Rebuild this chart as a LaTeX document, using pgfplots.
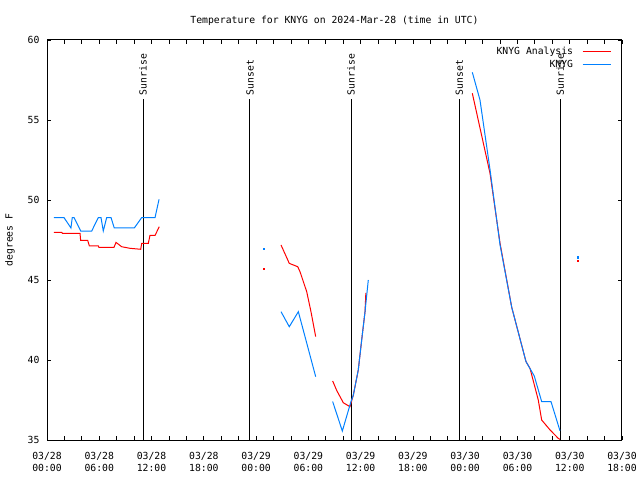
\documentclass[border=0pt]{standalone}
\usepackage{pgfplots}
\pgfplotsset{compat=1.18}
\usepackage{fontspec}
\setmainfont{DejaVu Sans Mono}
\definecolor{obsblue}{RGB}{0,128,255}
\definecolor{anred}{RGB}{255,0,0}
\begin{document}
\begin{tikzpicture}
\useasboundingbox (0,0) rectangle (640bp,480bp);
\begin{axis}[
  at={(47bp,40bp)}, anchor=south west,
  scale only axis, width=575bp, height=400bp,
  xmin=0, xmax=66, ymin=35, ymax=60,
  xtick={0,6,...,66},
  minor xtick={2,4,8,10,14,16,20,22,26,28,32,34,38,40,44,46,50,52,56,58,62,64},
  xticklabels={{03/28\\00:00},{03/28\\06:00},{03/28\\12:00},{03/28\\18:00},{03/29\\00:00},{03/29\\06:00},{03/29\\12:00},{03/29\\18:00},{03/30\\00:00},{03/30\\06:00},{03/30\\12:00},{03/30\\18:00}},
  xticklabel style={align=center, font=\fontsize{9.8}{12}\selectfont, yshift=-8.5bp},
  ytick={35,40,...,60},
  yticklabel style={font=\fontsize{9.8}{12}\selectfont, xshift=-4bp},
  /pgf/number format/assume math mode=true,
  tick align=inside, tick pos=both,
  major tick length=4bp, minor tick length=4bp,
  every tick/.style={black, line width=0.8bp},
  axis line style={line width=1bp},
  ylabel={degrees F},
  ylabel style={font=\fontsize{9.8}{12}\selectfont, at={(rel axis cs:-0.0643,0.5)}, anchor=center},
  title={Temperature for KNYG on 2024-Mar-28 (time in UTC)},
  title style={font=\fontsize{9.8}{12}\selectfont, at={(axis description cs:0.5,1)}, yshift=5bp},
  unbounded coords=jump,
  legend plot pos=right,
  legend cell align=right,
  legend style={at={(rel axis cs:0.983,0.99)}, anchor=north east, draw=none, fill=none,
    font=\fontsize{9.8}{12}\selectfont, inner sep=1bp, row sep=0bp,
    column sep=7bp},
  legend image code/.code={\draw[#1] (0bp,0bp) -- (28bp,0bp);},
]
% Sunrise / sunset markers
\addplot[black, line width=1bp, forget plot] coordinates {(11.02,35) (11.02,56.3)};
\addplot[black, line width=1bp, forget plot] coordinates {(23.3,35) (23.3,56.3)};
\addplot[black, line width=1bp, forget plot] coordinates {(34.9,35) (34.9,56.3)};
\addplot[black, line width=1bp, forget plot] coordinates {(47.34,35) (47.34,56.3)};
\addplot[black, line width=1bp, forget plot] coordinates {(58.9,35) (58.9,56.3)};
\node[rotate=90, anchor=west, inner sep=0pt, font=\fontsize{9.8}{12}\selectfont] at (axis cs:11.02,56.55) {Sunrise};
\node[rotate=90, anchor=west, inner sep=0pt, font=\fontsize{9.8}{12}\selectfont] at (axis cs:23.3,56.55) {Sunset};
\node[rotate=90, anchor=west, inner sep=0pt, font=\fontsize{9.8}{12}\selectfont] at (axis cs:34.9,56.55) {Sunrise};
\node[rotate=90, anchor=west, inner sep=0pt, font=\fontsize{9.8}{12}\selectfont] at (axis cs:47.34,56.55) {Sunset};
\node[rotate=90, anchor=west, inner sep=0pt, font=\fontsize{9.8}{12}\selectfont] at (axis cs:58.9,56.55) {Sunrise};

% KNYG Analysis (red)
\addplot[anred, line width=1bp] coordinates {
 (0.80,47.98) (1.69,47.98) (1.76,47.92) (3.79,47.92) (3.86,47.48) (4.67,47.48) (4.86,47.13)
 (5.89,47.13) (5.96,47.04) (7.69,47.04) (7.92,47.35) (8.57,47.08) (9.53,46.98) (10.76,46.92)
 (10.87,47.29) (11.63,47.29) (11.82,47.79) (12.40,47.79) (12.89,48.33)
 (13.5,nan)
 (26.86,47.19) (27.81,46.04) (28.78,45.83) (29.04,45.52) (29.81,44.27) (30.30,43.02) (30.84,41.46)
 (31.5,nan)
 (32.79,38.69) (33.25,38.10) (34.01,37.33) (34.78,37.08) (35.16,37.8) (35.73,39.38) (36.12,41.25) (36.50,43.0) (36.6,44.2)
 (40,nan)
 (48.82,56.67) (50.85,51.67) (52.0,47.3) (53.34,43.3) (54.98,39.9) (55.44,39.48) (56.39,37.5)
 (56.78,36.25) (57.74,35.63) (58.69,35.1) (58.88,35.04)
};
\addlegendentry{KNYG Analysis}
% KNYG observations (blue)
\addplot[obsblue, line width=1bp] coordinates {
 (0.80,48.9) (1.95,48.9) (2.75,48.25) (2.90,48.9) (3.10,48.9) (3.87,48.06) (5.13,48.06)
 (5.89,48.9) (6.20,48.9) (6.46,48.06) (6.85,48.9) (7.35,48.9) (7.72,48.25) (10.02,48.25)
 (10.87,48.9) (12.40,48.9) (12.86,50.04)
 (13.5,nan)
 (26.86,43.02) (27.81,42.08) (28.85,43.02) (30.84,38.96)
 (31.5,nan)
 (32.79,37.4) (33.90,35.56) (34.89,37.4) (35.16,37.8) (35.73,39.38) (36.12,41.25) (36.50,43.0) (36.88,45.0)
 (40,nan)
 (48.82,57.98) (49.70,56.25) (50.85,51.9) (52.0,47.2) (53.34,43.3) (54.98,39.9) (55.93,39.0)
 (56.78,37.4) (57.85,37.4) (58.88,35.58)
};
\addlegendentry{KNYG}
% isolated single values
\addplot[only marks, mark=square*, mark size=0.6bp, color=anred, forget plot] coordinates {(24.83,45.73) (60.87,46.19)};
\addplot[only marks, mark=square*, mark size=0.6bp, color=obsblue, forget plot] coordinates {(24.83,46.98) (60.87,46.42)};
\end{axis}
\end{tikzpicture}
\end{document}
